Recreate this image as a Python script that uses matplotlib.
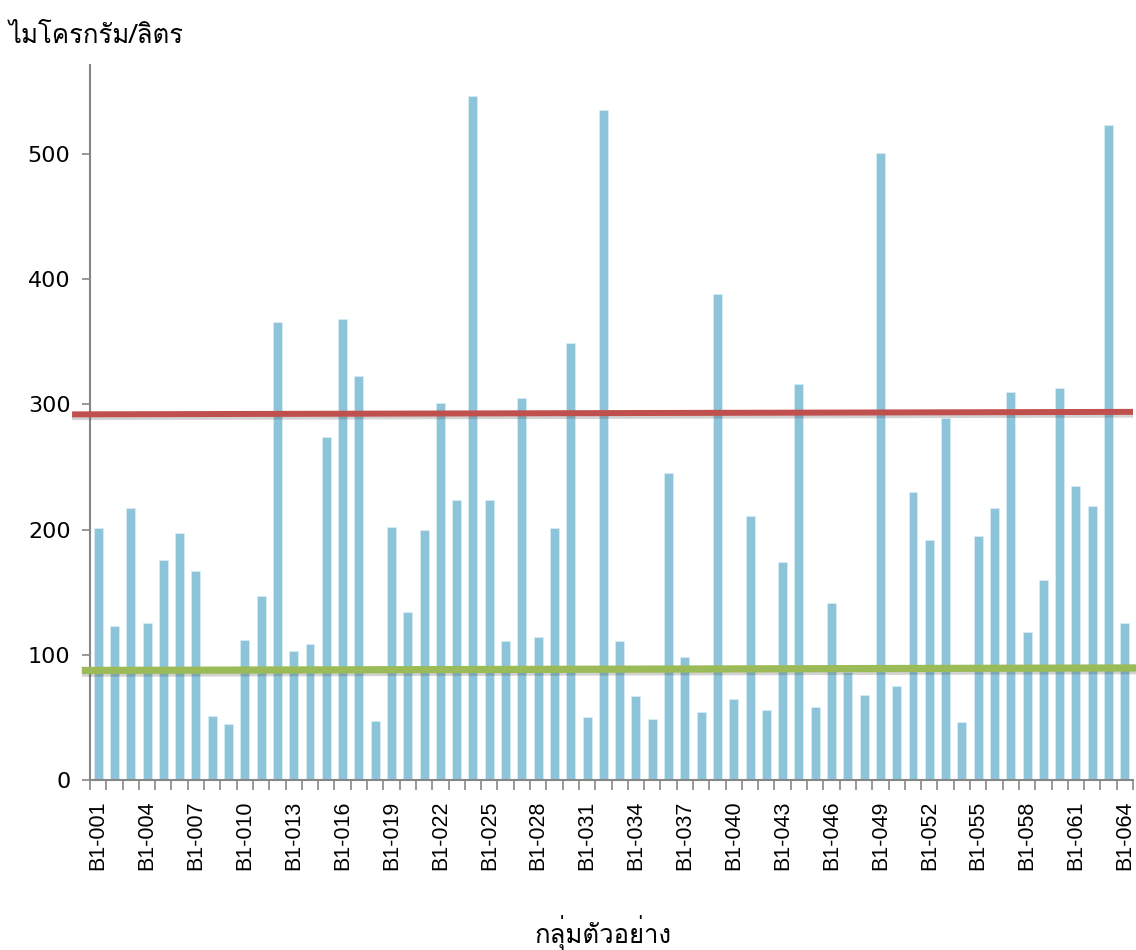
import matplotlib
matplotlib.use("Agg")
import matplotlib.pyplot as plt
import matplotlib.patheffects as pe
from matplotlib import font_manager
from matplotlib.ft2font import FT2Font
import numpy as np

# ---- data ----
samples = [f"B1-{i:03d}" for i in range(1, 65)]
values = [201, 123, 217, 125, 176, 197, 167, 51, 45, 112,
          147, 366, 103, 109, 274, 368, 323, 47, 202, 134,
          200, 301, 224, 546, 224, 111, 305, 114, 201, 349,
          50, 535, 111, 67, 49, 245, 98, 54, 388, 65,
          211, 56, 174, 316, 58, 141, 86, 68, 501, 75,
          230, 192, 289, 46, 195, 217, 310, 118, 160, 313,
          235, 219, 523, 125]
red_line = [292, 294]     # start / end level
green_line = [87.5, 89.5]
y_ticks = [0, 100, 200, 300, 400, 500]
y_title = "ไมโครกรัม/ลิตร"
x_title = "กลุ่มตัวอย่าง"

# ---- find a regular-weight, normal-width font with Thai glyphs ----
best = None
for f in font_manager.fontManager.ttflist:
    try:
        ft = FT2Font(f.fname)
        if ft.get_char_index(0x0E44) and ft.get_char_index(0x0E01):
            w = f.weight if isinstance(f.weight, int) else 400
            score = abs(w - 400)
            score += 0 if f.style == "normal" else 1000
            score += 0 if f.stretch in ("normal", 500) else 500
            score += 0 if "Looped" not in f.name else 50
            if best is None or score < best[0]:
                best = (score, f.fname)
    except Exception:
        pass
if best:
    thai_fp = font_manager.FontProperties(fname=best[1], size=18.5)
else:
    thai_fp = font_manager.FontProperties(family="DejaVu Sans", size=18.5)

plt.rcParams['font.family'] = ['DejaVu Sans']

fig = plt.figure(figsize=(11.36, 9.5), dpi=100)
ax = fig.add_axes([90 / 1136, 1 - 780 / 950, (1133 - 90) / 1136, (780 - 65) / 950])

x = np.arange(len(samples))
ax.bar(x, values, width=0.55, color="#8EC4D9", edgecolor="#D5ECF4", linewidth=0.6, zorder=2)

shadow = [pe.SimpleLineShadow(offset=(0, -2), shadow_color="0.3", alpha=0.25), pe.Normal()]
ax.plot([-1.6, 63.5], red_line, color="#C0504D", lw=4.3, clip_on=False, zorder=3,
        path_effects=shadow, solid_capstyle="butt")
ax.plot([-1.0, 63.7], green_line, color="#9BBB59", lw=5.2, clip_on=False, zorder=3,
        path_effects=shadow, solid_capstyle="butt")

ax.set_xlim(-0.5, len(samples) - 0.5)
ax.set_ylim(0, 571)

for s in ["top", "right"]:
    ax.spines[s].set_visible(False)
for s in ["left", "bottom"]:
    ax.spines[s].set_color("#868686")
    ax.spines[s].set_linewidth(1.5)

ax.set_yticks(y_ticks)
ax.set_yticklabels([str(v) for v in y_ticks], fontsize=16)
ax.tick_params(axis="y", length=6, width=1.2, color="#868686", pad=8)

# minor ticks at category boundaries, labels every 3rd category
ax.set_xticks(np.arange(-0.5, len(samples), 1.0), minor=True)
ax.set_xticks(x[::3])
ax.set_xticklabels(samples[::3], rotation=90, fontsize=15.5, family="Liberation Sans")
ax.tick_params(axis="x", which="major", length=0, pad=15)
ax.tick_params(axis="x", which="minor", length=7, width=1.2, color="#868686")

fig.text(9 / 1136, 1 - 36 / 950, y_title, fontproperties=thai_fp,
         ha="left", va="center")
fig.text(603 / 1136, 1 - 933 / 950, x_title, fontproperties=thai_fp,
         ha="center", va="center")

fig.savefig("out.png", dpi=100)
